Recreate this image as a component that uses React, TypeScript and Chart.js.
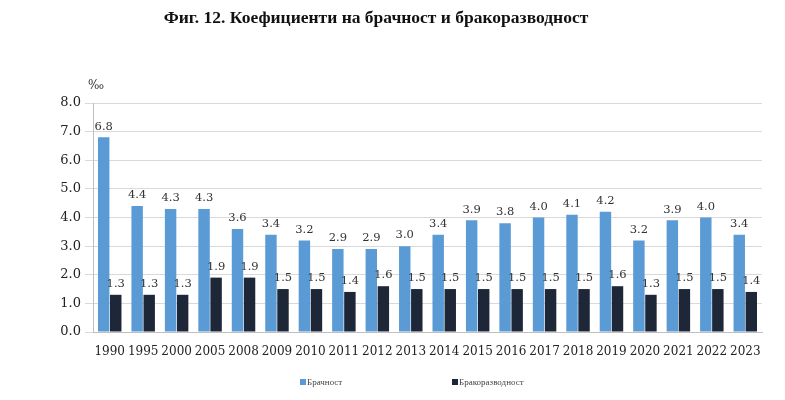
import React, { useEffect, useRef } from "react";
import { Chart, registerables } from "chart.js";

Chart.register(...registerables);

const years = ["1990","1995","2000","2005","2008","2009","2010","2011","2012","2013","2014","2015","2016","2017","2018","2019","2020","2021","2022","2023"];
const marriage = [6.8,4.4,4.3,4.3,3.6,3.4,3.2,2.9,2.9,3.0,3.4,3.9,3.8,4.0,4.1,4.2,3.2,3.9,4.0,3.4];
const divorce = [1.3,1.3,1.3,1.9,1.9,1.5,1.5,1.4,1.6,1.5,1.5,1.5,1.5,1.5,1.5,1.6,1.3,1.5,1.5,1.4];
const seriesNames = ["Брачност", "Бракоразводност"];
const titleText = "Фиг. 12. Коефициенти на брачност и бракоразводност";
const unitText = "‰";

const BLUE = "#5b9bd5";
const DARK = "#1e2738";

const extrasPlugin = {
  id: "extras",
  afterDatasetsDraw(chart: any) {
    const ctx = chart.ctx;
    ctx.save();
    // value labels
    ctx.font = "11.5px 'DejaVu Serif'";
    ctx.fillStyle = "#333";
    ctx.textAlign = "center";
    ctx.textBaseline = "bottom";
    chart.data.datasets.forEach((ds: any, i: number) => {
      const meta = chart.getDatasetMeta(i);
      meta.data.forEach((bar: any, j: number) => {
        ctx.fillText(Number(ds.data[j]).toFixed(1), bar.x, bar.y - 5);
      });
    });
    // title
    ctx.font = "bold 17.5px 'Liberation Serif'";
    ctx.fillStyle = "#111";
    ctx.textBaseline = "middle";
    ctx.fillText(titleText, 376, 18);
    // unit
    ctx.font = "12px 'DejaVu Serif'";
    ctx.fillStyle = "#333";
    ctx.textAlign = "left";
    ctx.fillText(unitText, 88, 86);
    // legend
    const lx = [300, 452];
    ctx.font = "9px 'Liberation Serif'";
    chart.data.datasets.forEach((ds: any, i: number) => {
      ctx.fillStyle = ds.backgroundColor;
      ctx.fillRect(lx[i], 379, 6, 6);
      ctx.fillStyle = "#444";
      ctx.textAlign = "left";
      ctx.textBaseline = "middle";
      ctx.fillText(ds.label, lx[i] + 7, 382.5);
    });
    ctx.restore();
  },
};

export default function App() {
  const ref = useRef<HTMLCanvasElement>(null);
  useEffect(() => {
    if (!ref.current) return;
    const chart = new Chart(ref.current, {
      type: "bar",
      data: {
        labels: years,
        datasets: [
          { label: seriesNames[0], data: marriage, backgroundColor: BLUE, categoryPercentage: 0.72, barPercentage: 0.95 },
          { label: seriesNames[1], data: divorce, backgroundColor: DARK, categoryPercentage: 0.72, barPercentage: 0.95 },
        ],
      },
      options: {
        responsive: false,
        animation: false,
        layout: { padding: { top: 103, right: 23, bottom: 0, left: 0 } },
        plugins: { legend: { display: false }, title: { display: false }, tooltip: { enabled: false } },
        scales: {
          x: {
            grid: { display: false },
            border: { display: true, color: "#bfbfbf" },
            ticks: { color: "#222", font: { family: "'DejaVu Serif'", size: 12 }, padding: 5, maxRotation: 0, autoSkip: false },
            afterFit: (s: any) => { s.height = 68; },
          },
          y: {
            min: 0,
            max: 8,
            grid: { color: "#d9d9d9" },
            border: { display: true, color: "#bfbfbf" },
            ticks: { stepSize: 1, color: "#222", font: { family: "'DejaVu Serif'", size: 13 }, padding: 4, callback: (v: any) => Number(v).toFixed(1) },
            afterFit: (s: any) => { s.width = 93; },
          },
        },
      },
      plugins: [extrasPlugin],
    });
    return () => chart.destroy();
  }, []);
  return (
    <div style={{ position: "absolute", left: 0, top: 0, width: 785, height: 400, background: "#fff" }}>
      <canvas ref={ref} width={785} height={400} />
    </div>
  );
}
